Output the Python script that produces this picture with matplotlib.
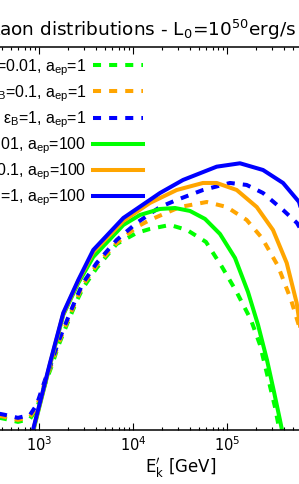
import numpy as np
import matplotlib
matplotlib.use('Agg')
import matplotlib.pyplot as plt

# Values, stored as log10(E'_k / GeV) and log10(flux, arb. units)

# eps_B = 0.01, a_ep = 1
logE_g1 = [2.529, 2.635, 2.773, 2.901, 2.972, 3.061, 3.132, 3.202, 3.309, 3.398, 3.465, 3.611,
           3.823, 4.036, 4.177, 4.390, 4.571, 4.773, 4.944, 5.093, 5.252, 5.348, 5.433, 5.507,
           5.550, 5.582]
logF_g1 = [-4.795, -4.826, -4.873, -4.826, -4.670, -4.279, -3.997, -3.684, -3.293, -2.980, -2.776,
           -2.463, -2.088, -1.915, -1.853, -1.790, -1.869, -2.056, -2.448, -2.823, -3.277, -3.668,
           -4.185, -4.638, -4.967, -5.233]

# eps_B = 0.1, a_ep = 1
logE_o1 = [2.529, 2.635, 2.773, 2.901, 2.972, 3.061, 3.132, 3.202, 3.309, 3.398, 3.465, 3.611,
           3.823, 4.036, 4.177, 4.497, 4.781, 4.994, 5.206, 5.369, 5.539, 5.678, 5.763, 5.827]
logF_o1 = [-4.763, -4.795, -4.842, -4.795, -4.638, -4.248, -3.966, -3.653, -3.261, -2.948, -2.729,
           -2.417, -2.072, -1.822, -1.712, -1.509, -1.431, -1.509, -1.712, -1.994, -2.432, -2.963,
           -3.370, -3.778]

# eps_B = 1, a_ep = 1
logE_b1 = [2.529, 2.635, 2.773, 2.901, 2.972, 3.061, 3.132, 3.202, 3.309, 3.398, 3.465, 3.611,
           3.823, 4.036, 4.284, 4.462, 4.741, 5.029, 5.206, 5.380, 5.593, 5.741, 5.880, 5.986]
logF_b1 = [-4.732, -4.763, -4.810, -4.763, -4.607, -4.216, -3.934, -3.621, -3.230, -2.917, -2.698,
           -2.385, -2.025, -1.759, -1.509, -1.399, -1.243, -1.133, -1.164, -1.290, -1.556, -1.759,
           -2.103, -2.573]

# eps_B = 0.01, a_ep = 100
logE_g100 = [2.880, 2.933, 3.114, 3.255, 3.415, 3.574, 3.894, 4.071, 4.284, 4.444, 4.603, 4.763,
             4.922, 5.082, 5.220, 5.327, 5.422, 5.497, 5.560, 5.603]
logF_g100 = [-5.499, -5.030, -3.981, -3.198, -2.698, -2.291, -1.790, -1.634, -1.540, -1.525, -1.571,
             -1.696, -1.931, -2.307, -2.839, -3.355, -3.903, -4.404, -4.842, -5.155]

# eps_B = 0.1, a_ep = 100
logE_o100 = [2.880, 2.933, 3.114, 3.255, 3.415, 3.574, 3.894, 4.177, 4.462, 4.741, 4.887, 5.100,
             5.313, 5.486, 5.632, 5.738, 5.827]
logF_o100 = [-5.484, -5.014, -3.966, -3.183, -2.667, -2.213, -1.728, -1.446, -1.243, -1.133, -1.133,
             -1.243, -1.509, -1.869, -2.385, -3.011, -3.903]

# eps_B = 1, a_ep = 100
logE_b100 = [2.880, 2.933, 3.114, 3.255, 3.415, 3.574, 3.894, 4.284, 4.529, 4.887, 5.135, 5.380,
             5.593, 5.763, 5.880, 5.986]
logF_b100 = [-5.468, -5.000, -3.950, -3.167, -2.651, -2.182, -1.681, -1.290, -1.086, -0.878, -0.825,
             -0.930, -1.133, -1.430, -2.030, -2.960]

eps_B = ['0.01', '0.1', '1', '0.01', '0.1', '1']
a_ep = ['1', '1', '1', '100', '100', '100']
labels = [u'\u03b5$_\\mathregular{B}$=%s, a$_\\mathregular{ep}$=%s' % (e, a) for e, a in zip(eps_B, a_ep)]
colors = ['#00ff00', '#ffa500', '#0000ff']

W, H = 299, 484
fig = plt.figure(figsize=(W / 100, H / 100), dpi=100)

# axes is wider than the visible crop (x from 1e2 to 1e7)
x_left, x_right = -54.7, 415.3
y_top, y_bot = 46.7, 430
ax = fig.add_axes([x_left / W, 1 - y_bot / H, (x_right - x_left) / W, (y_bot - y_top) / H])

series = [(logE_g1, logF_g1), (logE_o1, logF_o1), (logE_b1, logF_b1),
          (logE_g100, logF_g100), (logE_o100, logF_o100), (logE_b100, logF_b100)]
for i, (le, lf) in enumerate(series):
    x = 10 ** np.array(le)
    y = 10 ** np.array(lf)
    if i < 3:
        ax.plot(x, y, color=colors[i], lw=2.9, dashes=(2, 2), label=labels[i])
    else:
        ax.plot(x, y, color=colors[i - 3], lw=2.9, label=labels[i])

ax.set_xscale('log')
ax.set_yscale('log')
ax.set_xlim(1e2, 1e7)
ax.set_ylim(1e-5, 1e1)

for s in ax.spines.values():
    s.set_linewidth(1.1)
ax.tick_params(which='both', direction='in', top=True, right=True, width=0.8, labelsize=10.5)
ax.tick_params(which='major', length=5)
ax.tick_params(which='minor', length=2.5)
ax.tick_params(axis='y', which='both', labelleft=False)
ax.set_xlabel(r"E$^{\prime}_{\mathregular{k}}$ [GeV]", fontsize=12, labelpad=2)

fig.text(296 / W, 1 - 36 / H, r'Kaon distributions - L$_0$=10$^{50}$erg/s',
         ha='right', va='baseline', fontsize=13.3)

ax.legend(loc='upper right', bbox_to_anchor=(143 / W, 1 - 57 / H), bbox_transform=fig.transFigure,
          frameon=False, markerfirst=False, handlelength=3.15, handletextpad=0.45,
          labelspacing=0.35, borderpad=0, borderaxespad=0,
          prop={'family': 'Liberation Sans', 'size': 11.4})

fig.savefig('out.png', dpi=100)
